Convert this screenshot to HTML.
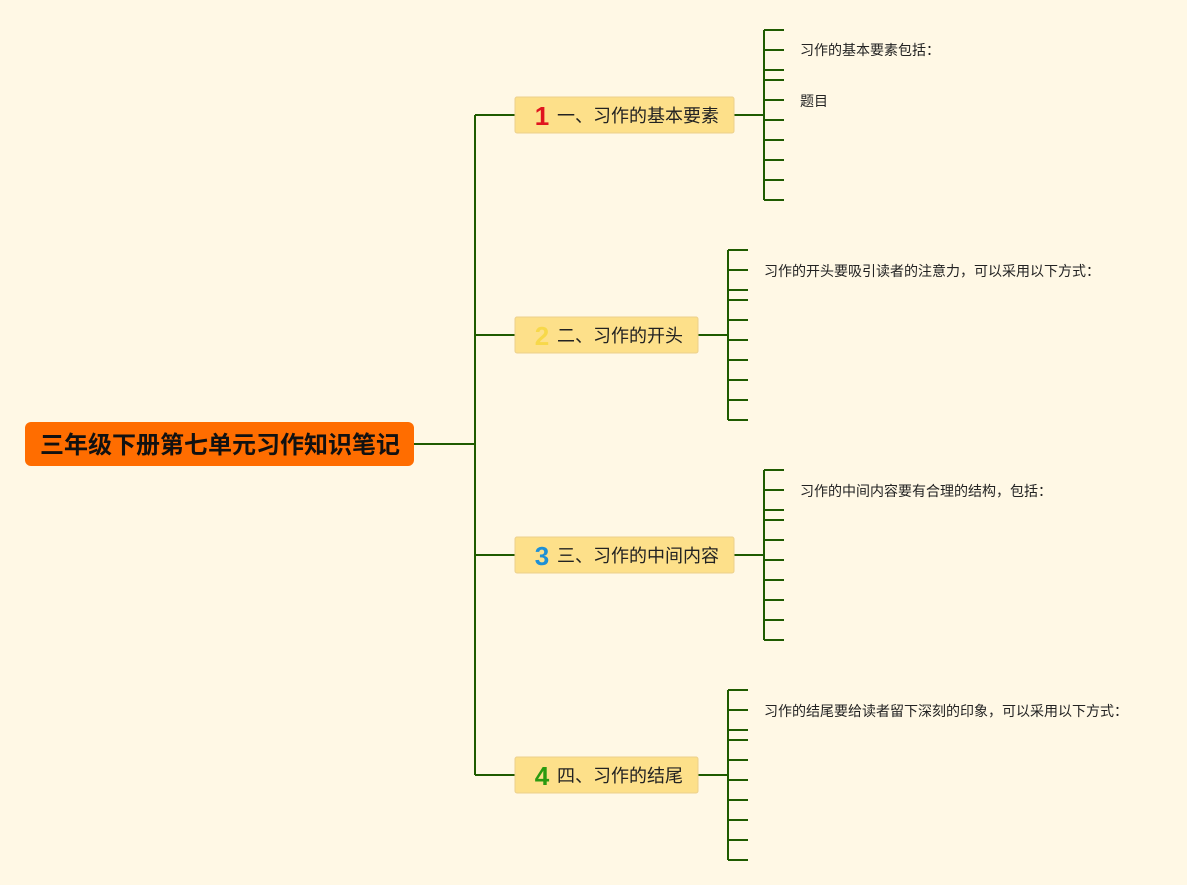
<!DOCTYPE html>
<html><head><meta charset="utf-8"><style>
html,body{margin:0;padding:0;background:#fff8e5;}
svg{display:block}
text{font-family:"Liberation Sans","Noto Sans CJK SC",sans-serif;}
</style></head><body>
<svg width="1187" height="885" viewBox="0 0 1187 885" xmlns="http://www.w3.org/2000/svg">
<rect width="1187" height="885" fill="#fff8e5"/>
<g stroke="#1f5b00" stroke-width="2" fill="none">
<path d="M414 444H475M475 115V775M475 115H515M475 335H515M475 555H515M475 775H515"/>
<path d="M734 115H764M764 30V200M764 30h20M764 50h20M764 70h20M764 80h20M764 100h20M764 120h20M764 140h20M764 160h20M764 180h20M764 200h20"/>
<path d="M698 335H728M728 250V420M728 250h20M728 270h20M728 290h20M728 300h20M728 320h20M728 340h20M728 360h20M728 380h20M728 400h20M728 420h20"/>
<path d="M734 555H764M764 470V640M764 470h20M764 490h20M764 510h20M764 520h20M764 540h20M764 560h20M764 580h20M764 600h20M764 620h20M764 640h20"/>
<path d="M698 775H728M728 690V860M728 690h20M728 710h20M728 730h20M728 740h20M728 760h20M728 780h20M728 800h20M728 820h20M728 840h20M728 860h20"/>
</g>
<rect x="25" y="422" width="389" height="44" rx="6" fill="#ff6d00"/>
<text x="220" y="453" text-anchor="middle" font-size="24" font-weight="bold" fill="#111">三年级下册第七单元习作知识笔记</text>
<g fill="#fde08a" stroke="#ecd08c" stroke-width="1">
<rect x="515" y="97" width="219" height="36" rx="2"/>
<rect x="515" y="317" width="183" height="36" rx="2"/>
<rect x="515" y="537" width="219" height="36" rx="2"/>
<rect x="515" y="757" width="183" height="36" rx="2"/>
</g>
<g font-size="26" font-weight="bold" text-anchor="middle">
<text x="542" y="125" fill="#e0141e">1</text>
<text x="542" y="345" fill="#f7d84a">2</text>
<text x="542" y="565" fill="#1e90d6">3</text>
<text x="542" y="785" fill="#2a9a10">4</text>
</g>
<g font-size="18" fill="#222">
<text x="557" y="122">一、习作的基本要素</text>
<text x="557" y="342">二、习作的开头</text>
<text x="557" y="562">三、习作的中间内容</text>
<text x="557" y="782">四、习作的结尾</text>
</g>
<g font-size="14" fill="#222">
<text x="800" y="55">习作的基本要素包括：</text>
<text x="800" y="106">题目</text>
<text x="764" y="276">习作的开头要吸引读者的注意力，可以采用以下方式：</text>
<text x="800" y="496">习作的中间内容要有合理的结构，包括：</text>
<text x="764" y="716">习作的结尾要给读者留下深刻的印象，可以采用以下方式：</text>
</g>
</svg>
</body></html>
